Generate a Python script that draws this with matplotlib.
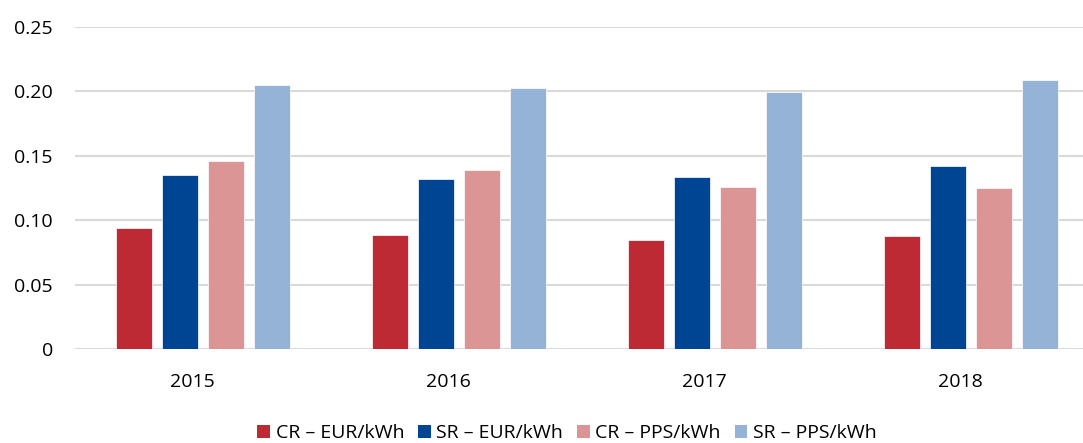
import numpy as np
import matplotlib.pyplot as plt
from matplotlib.patches import Patch

# Data
years = ['2015', '2016', '2017', '2018']
series = ['CR \u2013 EUR/kWh', 'SR \u2013 EUR/kWh', 'CR \u2013 PPS/kWh', 'SR \u2013 PPS/kWh']
cr_eur = [0.094, 0.0885, 0.0845, 0.088]
sr_eur = [0.135, 0.132, 0.1335, 0.142]
cr_pps = [0.146, 0.139, 0.126, 0.125]
sr_pps = [0.205, 0.203, 0.1995, 0.209]
colors = ['#BE2A33', '#004494', '#DA9594', '#95B3D7']


def main():
    plt.rcParams['font.family'] = ['Open Sans', 'DejaVu Sans']

    fig = plt.figure(figsize=(10.83, 4.43), dpi=100)
    # axes is wider than the figure on purpose, the right edge is cut off
    ax = fig.add_axes([75 / 1083, 94 / 443, 1024 / 1083, 322 / 443])

    x = np.arange(len(years))
    width = 0.142
    step = 0.18
    values = [cr_eur, sr_eur, cr_pps, sr_pps]
    for i, vals in enumerate(values):
        ax.bar(x + (i - 1.5) * step, vals, width, color=colors[i],
               edgecolor='white', linewidth=0.5, zorder=3)

    ax.set_xlim(-0.5, len(years) - 0.5)
    ax.set_ylim(0, 0.25)
    ax.set_yticks([0, 0.05, 0.10, 0.15, 0.20, 0.25])
    ax.set_yticklabels(['0', '0.05', '0.10', '0.15', '0.20', '0.25'])
    # year labels sit a little left of the bar groups in the original
    ax.set_xticks(x - 0.043)
    ax.set_xticklabels(years)
    ax.tick_params(axis='both', length=0, labelsize=14, colors='black')
    ax.tick_params(axis='y', pad=16)
    ax.tick_params(axis='x', pad=17)

    ax.grid(axis='y', color='#D9D9D9', linewidth=1.5, zorder=0)
    for s in ax.spines.values():
        s.set_visible(False)

    handles = [Patch(facecolor=c, edgecolor='none') for c in colors]
    fig.legend(handles, series, loc='center', bbox_to_anchor=(567 / 1083, 1 - 433 / 443),
               ncol=4, frameon=False, fontsize=14, handlelength=0.65,
               handleheight=0.65, handletextpad=0.3, columnspacing=0.7)

    fig.savefig('out.png', dpi=100)


if __name__ == '__main__':
    main()
